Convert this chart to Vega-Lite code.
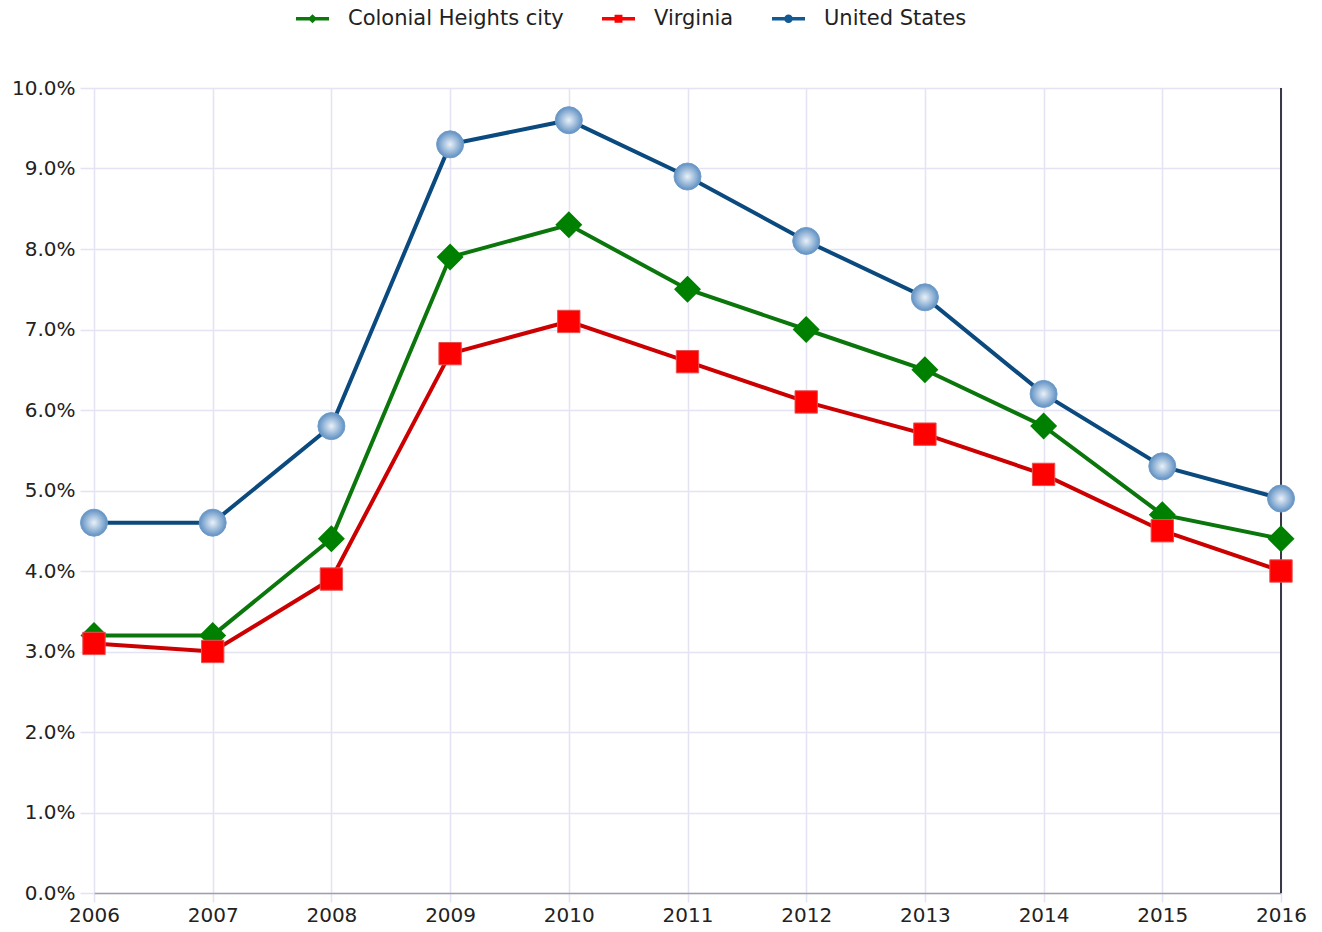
{
  "$schema": "https://vega.github.io/schema/vega-lite/v6.json",
  "width": 1187,
  "height": 805,
  "padding": {"left": 11, "top": 2, "right": 36, "bottom": 5},
  "background": "white",
  "config": {
    "font": "DejaVu Sans",
    "view": {"stroke": null}
  },
  "data": {
    "values": [
      {"year": 2006, "series": "Colonial Heights city", "value": 3.2},
      {"year": 2007, "series": "Colonial Heights city", "value": 3.2},
      {"year": 2008, "series": "Colonial Heights city", "value": 4.4},
      {"year": 2009, "series": "Colonial Heights city", "value": 7.9},
      {"year": 2010, "series": "Colonial Heights city", "value": 8.3},
      {"year": 2011, "series": "Colonial Heights city", "value": 7.5},
      {"year": 2012, "series": "Colonial Heights city", "value": 7.0},
      {"year": 2013, "series": "Colonial Heights city", "value": 6.5},
      {"year": 2014, "series": "Colonial Heights city", "value": 5.8},
      {"year": 2015, "series": "Colonial Heights city", "value": 4.7},
      {"year": 2016, "series": "Colonial Heights city", "value": 4.4},
      {"year": 2006, "series": "Virginia", "value": 3.1},
      {"year": 2007, "series": "Virginia", "value": 3.0},
      {"year": 2008, "series": "Virginia", "value": 3.9},
      {"year": 2009, "series": "Virginia", "value": 6.7},
      {"year": 2010, "series": "Virginia", "value": 7.1},
      {"year": 2011, "series": "Virginia", "value": 6.6},
      {"year": 2012, "series": "Virginia", "value": 6.1},
      {"year": 2013, "series": "Virginia", "value": 5.7},
      {"year": 2014, "series": "Virginia", "value": 5.2},
      {"year": 2015, "series": "Virginia", "value": 4.5},
      {"year": 2016, "series": "Virginia", "value": 4.0},
      {"year": 2006, "series": "United States", "value": 4.6},
      {"year": 2007, "series": "United States", "value": 4.6},
      {"year": 2008, "series": "United States", "value": 5.8},
      {"year": 2009, "series": "United States", "value": 9.3},
      {"year": 2010, "series": "United States", "value": 9.6},
      {"year": 2011, "series": "United States", "value": 8.9},
      {"year": 2012, "series": "United States", "value": 8.1},
      {"year": 2013, "series": "United States", "value": 7.4},
      {"year": 2014, "series": "United States", "value": 6.2},
      {"year": 2015, "series": "United States", "value": 5.3},
      {"year": 2016, "series": "United States", "value": 4.9}
    ]
  },
  "encoding": {
    "x": {
      "field": "year",
      "type": "quantitative",
      "scale": {"domain": [2006, 2016], "nice": false, "zero": false},
      "axis": {
        "title": null,
        "values": [2006, 2007, 2008, 2009, 2010, 2011, 2012, 2013, 2014, 2015, 2016],
        "format": "d",
        "labelFontSize": 20,
        "labelColor": "#222",
        "labelPadding": 3,
        "labelFlush": false,
        "labelBound": false,
        "grid": true,
        "gridColor": "#e3e3f3",
        "gridWidth": 1.5,
        "tickColor": "#e3e3f3",
        "tickWidth": 1.5,
        "tickSize": 9,
        "domainColor": "#a0a0a8",
        "domainWidth": 1.5
      }
    },
    "y": {
      "field": "value",
      "type": "quantitative",
      "scale": {"domain": [0, 10], "nice": false},
      "axis": {
        "title": null,
        "values": [0, 1, 2, 3, 4, 5, 6, 7, 8, 9, 10],
        "labelExpr": "format(datum.value, '.1f') + '%'",
        "labelFontSize": 20,
        "labelColor": "#222",
        "labelPadding": 5,
        "labelFlush": false,
        "grid": true,
        "gridColor": "#e3e3f3",
        "gridWidth": 1.5,
        "tickColor": "#e3e3f3",
        "tickWidth": 1.5,
        "tickSize": 14,
        "domain": false
      }
    }
  },
  "layer": [
    {
      "mark": {"type": "rule", "color": "#3a3a48", "strokeWidth": 1.2},
      "encoding": {"x": {"datum": 2016}, "y": null}
    },
    {
      "transform": [{"filter": "datum.series === 'Colonial Heights city'"}],
      "mark": {"type": "line", "color": "#0b760b", "strokeWidth": 4}
    },
    {
      "transform": [{"filter": "datum.series === 'Colonial Heights city'"}],
      "mark": {"type": "point", "shape": "diamond", "filled": true, "color": "#008000", "size": 729, "opacity": 1}
    },
    {
      "transform": [{"filter": "datum.series === 'Virginia'"}],
      "mark": {"type": "line", "color": "#cc0000", "strokeWidth": 4}
    },
    {
      "transform": [{"filter": "datum.series === 'Virginia'"}],
      "mark": {"type": "point", "shape": "square", "filled": true, "fill": "#ff0000", "stroke": "#e85050", "strokeWidth": 1, "size": 500, "opacity": 1}
    },
    {
      "transform": [{"filter": "datum.series === 'United States'"}],
      "mark": {"type": "line", "color": "#0b4a7e", "strokeWidth": 4}
    },
    {
      "transform": [{"filter": "datum.series === 'United States'"}],
      "mark": {
        "type": "point",
        "shape": "circle",
        "filled": true,
        "opacity": 1,
        "size": 729,
        "fill": {
          "gradient": "radial",
          "x1": 0.5, "y1": 0.5, "r1": 0,
          "x2": 0.5, "y2": 0.5, "r2": 0.5,
          "stops": [
            {"offset": 0, "color": "#eaf1f8"},
            {"offset": 1, "color": "#5f90c3"}
          ]
        },
        "stroke": "#6f9cc9",
        "strokeWidth": 1
      }
    },
    {
      "transform": [{"filter": "false"}],
      "mark": {"type": "point", "filled": true, "opacity": 1},
      "encoding": {
        "color": {
          "field": "series",
          "type": "nominal",
          "scale": {
            "domain": ["Colonial Heights city", "Virginia", "United States"],
            "range": ["#0b7a0b", "#ff0000", "#115a96"]
          },
          "legend": {
            "orient": "none",
            "legendX": 202,
            "legendY": -86,
            "direction": "horizontal",
            "title": null,
            "symbolSize": 1089,
            "symbolStrokeWidth": 0,
            "symbolOpacity": 1,
            "labelFontSize": 21,
            "labelColor": "#222",
            "labelLimit": 500,
            "labelOffset": 19,
            "columnPadding": 38
          }
        },
        "shape": {
          "field": "series",
          "type": "nominal",
          "scale": {
            "domain": ["Colonial Heights city", "Virginia", "United States"],
            "range": [
              "M-1,-0.11H1V0.11H-1Z M0,-0.28L0.28,0L0,0.28L-0.28,0Z",
              "M-1,-0.11H1V0.11H-1Z M-0.24,-0.24H0.24V0.24H-0.24Z",
              "M-1,-0.11H1V0.11H-1Z M-0.26,0A0.26,0.26 0 1,1 0.26,0A0.26,0.26 0 1,1 -0.26,0Z"
            ]
          }
        }
      }
    }
  ]
}
